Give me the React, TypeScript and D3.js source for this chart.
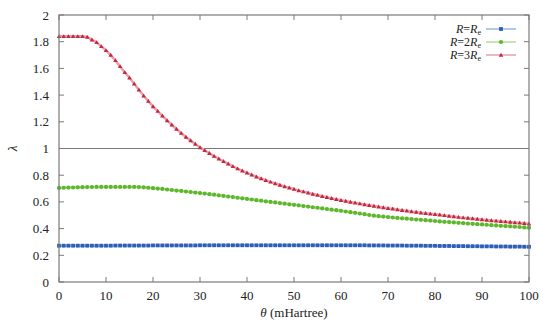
import * as d3 from "d3";

// theta (mHartree), 0..100 step 1
const theta = d3.range(0, 101);

const lambdaR1 = [
  0.272, 0.272, 0.272, 0.272, 0.272, 0.272, 0.272, 0.272, 0.272, 0.272,
  0.272, 0.272, 0.273, 0.273, 0.273, 0.273, 0.273, 0.273, 0.273, 0.273,
  0.274, 0.274, 0.274, 0.274, 0.274, 0.274, 0.274, 0.274, 0.274, 0.274,
  0.275, 0.275, 0.275, 0.275, 0.275, 0.275, 0.275, 0.275, 0.275, 0.275,
  0.275, 0.275, 0.275, 0.275, 0.275, 0.275, 0.275, 0.275, 0.275, 0.275,
  0.275, 0.275, 0.275, 0.275, 0.275, 0.275, 0.275, 0.275, 0.275, 0.275,
  0.275, 0.275, 0.275, 0.275, 0.275, 0.275, 0.274, 0.274, 0.274, 0.274,
  0.273, 0.273, 0.273, 0.273, 0.272, 0.272, 0.272, 0.272, 0.271, 0.271,
  0.271, 0.270, 0.270, 0.270, 0.269, 0.269, 0.269, 0.268, 0.268, 0.268,
  0.267, 0.267, 0.267, 0.266, 0.266, 0.266, 0.265, 0.265, 0.265, 0.264,
  0.264,
];

const lambdaR2 = [
  0.705, 0.706, 0.707, 0.708, 0.709, 0.710, 0.711, 0.711, 0.712, 0.712,
  0.712, 0.712, 0.712, 0.712, 0.712, 0.712, 0.712, 0.711, 0.709, 0.706,
  0.703, 0.700, 0.697, 0.693, 0.689, 0.685, 0.682, 0.678, 0.674, 0.670,
  0.666, 0.662, 0.658, 0.654, 0.649, 0.645, 0.640, 0.636, 0.631, 0.627,
  0.622, 0.618, 0.613, 0.609, 0.604, 0.600, 0.596, 0.591, 0.587, 0.582,
  0.578, 0.574, 0.569, 0.565, 0.560, 0.556, 0.551, 0.547, 0.542, 0.538,
  0.533, 0.528, 0.523, 0.518, 0.513, 0.508, 0.502, 0.497, 0.493, 0.490,
  0.486, 0.483, 0.480, 0.477, 0.474, 0.471, 0.468, 0.466, 0.463, 0.460,
  0.457, 0.454, 0.451, 0.449, 0.446, 0.443, 0.441, 0.438, 0.436, 0.433,
  0.431, 0.429, 0.426, 0.424, 0.421, 0.419, 0.417, 0.414, 0.412, 0.409,
  0.407,
];

const lambdaR3 = [
  1.840, 1.840, 1.840, 1.840, 1.840, 1.840, 1.835, 1.815, 1.795, 1.765,
  1.735, 1.700, 1.660, 1.615, 1.570, 1.530, 1.485, 1.440, 1.395, 1.355,
  1.315, 1.280, 1.245, 1.210, 1.178, 1.146, 1.115, 1.086, 1.060, 1.034,
  1.008, 0.986, 0.964, 0.943, 0.923, 0.904, 0.885, 0.866, 0.849, 0.833,
  0.818, 0.803, 0.789, 0.775, 0.762, 0.750, 0.738, 0.727, 0.716, 0.706,
  0.696, 0.686, 0.677, 0.668, 0.659, 0.651, 0.643, 0.635, 0.627, 0.620,
  0.613, 0.606, 0.599, 0.593, 0.587, 0.581, 0.575, 0.569, 0.563, 0.558,
  0.553, 0.548, 0.543, 0.538, 0.533, 0.528, 0.524, 0.519, 0.515, 0.511,
  0.507, 0.503, 0.499, 0.494, 0.490, 0.486, 0.482, 0.479, 0.475, 0.472,
  0.468, 0.465, 0.461, 0.458, 0.455, 0.452, 0.449, 0.446, 0.443, 0.440,
  0.437,
];

const xTicks = [0, 10, 20, 30, 40, 50, 60, 70, 80, 90, 100];
const yTicks = [0, 0.2, 0.4, 0.6, 0.8, 1, 1.2, 1.4, 1.6, 1.8, 2];

const series = [
  { name: "1", mult: "", values: lambdaR1, color: "#2b5fb8", light: "#9ab6e2", shape: "square" },
  { name: "2", mult: "2", values: lambdaR2, color: "#5cb82a", light: "#b4dd98", shape: "circle" },
  { name: "3", mult: "3", values: lambdaR3, color: "#c3283f", light: "#e6a0ab", shape: "triangle" },
];

const W = 550;
const H = 330;
const m = { left: 59, right: 21, top: 15, bottom: 48 };
const font = '"Liberation Serif", "DejaVu Serif", "Times New Roman", Times, serif';
const axisColor = "#7a7a7a";

export default function App() {
  const x = d3.scaleLinear().domain([0, 100]).range([m.left, W - m.right]);
  const y = d3.scaleLinear().domain([0, 2]).range([H - m.bottom, m.top]);
  const line = d3.line<number>().x((_, i) => x(theta[i])).y((d) => y(d));
  const tick = 5;
  const tri = d3.symbol(d3.symbolTriangle, 9)() || "";

  const marker = (shape: string, cx: number, cy: number, color: string, key: string) => {
    if (shape === "square") return <rect key={key} x={cx - 1.9} y={cy - 1.9} width={3.8} height={3.8} fill={color} />;
    if (shape === "circle") return <circle key={key} cx={cx} cy={cy} r={2.1} fill={color} />;
    return <path key={key} d={tri} transform={`translate(${cx},${cy + 0.4})`} fill={color} />;
  };

  return (
    <svg width={W} height={H} style={{ position: "absolute", left: 0, top: 0, background: "#fff" }} fontFamily={font}>
      {/* reference line at 1 */}
      <line x1={x(0)} x2={x(100)} y1={y(1)} y2={y(1)} stroke={axisColor} strokeWidth={1} />

      {/* ticks on all four sides, pointing inward */}
      {xTicks.map((t) => (
        <g key={"xt" + t}>
          <line x1={x(t)} x2={x(t)} y1={y(0)} y2={y(0) - tick} stroke={axisColor} />
          <line x1={x(t)} x2={x(t)} y1={y(2)} y2={y(2) + tick} stroke={axisColor} />
          <text x={x(t)} y={y(0) + 18} textAnchor="middle" fontSize={13} fill="#222" fontFamily={font}>
            {t}
          </text>
        </g>
      ))}
      {yTicks.map((t) => (
        <g key={"yt" + t}>
          <line x1={x(0)} x2={x(0) + tick} y1={y(t)} y2={y(t)} stroke={axisColor} />
          <line x1={x(100)} x2={x(100) - tick} y1={y(t)} y2={y(t)} stroke={axisColor} />
          <text x={x(0) - 10} y={y(t) + 4.5} textAnchor="end" fontSize={13} fill="#222" fontFamily={font}>
            {t}
          </text>
        </g>
      ))}

      {/* series */}
      {series.map((s) => (
        <g key={s.name}>
          <path d={line(s.values) || ""} fill="none" stroke={s.light} strokeWidth={2.5} />
          {s.values.map((v, i) => marker(s.shape, x(theta[i]), y(v), s.color, s.name + i))}
        </g>
      ))}

      {/* frame */}
      <rect x={x(0)} y={y(2)} width={x(100) - x(0)} height={y(0) - y(2)} fill="none" stroke={axisColor} strokeWidth={1.2} />

      {/* legend */}
      {series.map((s, i) => {
        const ly = 29 + i * 13;
        return (
          <g key={"lg" + s.name}>
            <text x={481} y={ly + 4} textAnchor="end" fontSize={12} fill="#222" fontFamily={font}>
              <tspan fontStyle="italic">R</tspan>
              <tspan>={s.mult}</tspan>
              <tspan fontStyle="italic">R</tspan>
              <tspan fontSize={8} dy={2}>e</tspan>
            </text>
            <line x1={486} x2={516} y1={ly} y2={ly} stroke={s.light} strokeWidth={1.5} />
            {marker(s.shape, 501, ly, s.color, "lm" + s.name)}
          </g>
        );
      })}

      {/* axis labels */}
      <text x={294} y={317} textAnchor="middle" fontSize={13} fill="#222" fontFamily={font}>
        <tspan fontStyle="italic">θ</tspan> (mHartree)
      </text>
      <text
        transform={`translate(17,${y(1)}) rotate(-90)`}
        textAnchor="middle"
        fontSize={13}
        fontStyle="italic"
        fill="#222"
        fontFamily={font}
      >
        λ
      </text>
    </svg>
  );
}
